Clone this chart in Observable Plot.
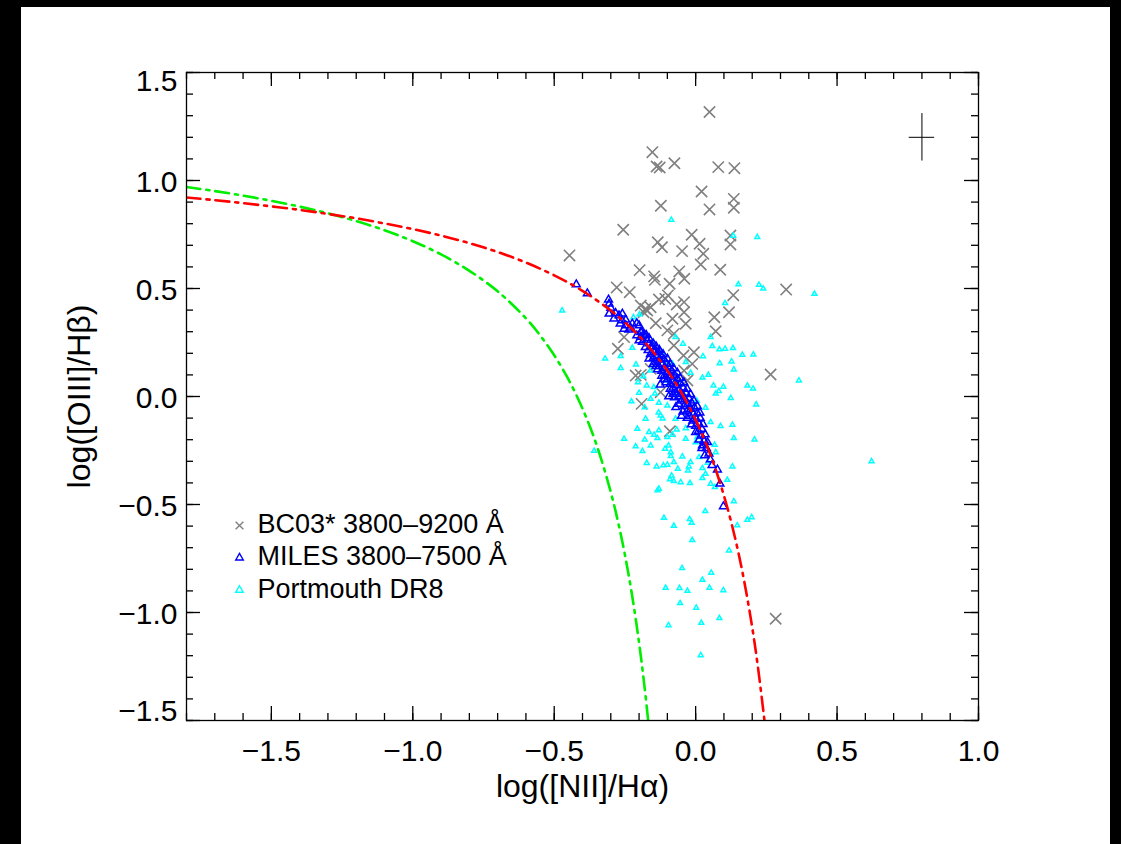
<!DOCTYPE html>
<html><head><meta charset="utf-8">
<script src="https://cdn.jsdelivr.net/npm/d3@7"></script>
<script src="https://cdn.jsdelivr.net/npm/@observablehq/plot@0.6"></script>
<style>
html,body{margin:0;padding:0;background:#000;width:1121px;height:844px;overflow:hidden}
#page{position:absolute;left:21px;top:7px;width:1089px;height:837px;background:#fff}
</style></head><body><div id="page"></div>
<script>
// ---------- data ----------
const bc03 = [[0.049,1.317],[-0.153,1.131],[-0.138,1.065],[-0.127,1.060],[-0.075,1.080],[0.080,1.062],[0.137,1.057],[0.021,0.949],[0.135,0.915],[0.135,0.874],[-0.123,0.883],[0.049,0.866],[-0.256,0.772],[-0.014,0.749],[-0.134,0.714],[-0.119,0.691],[0.014,0.707],[0.123,0.745],[0.123,0.704],[-0.048,0.673],[0.027,0.661],[0.018,0.611],[-0.446,0.653],[-0.198,0.585],[0.087,0.587],[-0.147,0.556],[-0.144,0.540],[-0.058,0.579],[-0.040,0.545],[-0.279,0.505],[-0.233,0.483],[-0.092,0.522],[0.320,0.495],[0.133,0.469],[-0.098,0.468],[-0.107,0.452],[-0.041,0.437],[-0.067,0.426],[-0.130,0.449],[-0.194,0.421],[-0.171,0.398],[-0.159,0.413],[-0.184,0.390],[-0.178,0.405],[0.118,0.390],[0.066,0.367],[-0.041,0.390],[-0.141,0.339],[-0.082,0.360],[-0.035,0.337],[0.071,0.302],[-0.100,0.306],[-0.077,0.290],[-0.253,0.275],[-0.275,0.221],[-0.077,0.236],[-0.006,0.205],[-0.043,0.190],[-0.012,0.151],[-0.041,0.120],[-0.065,0.089],[-0.212,0.097],[-0.194,0.100],[-0.159,0.128],[-0.029,0.074],[0.265,0.102],[-0.124,0.020],[-0.191,-0.034],[-0.091,-0.161],[0.283,-1.029]];

const miles = [[-0.422,0.519],[-0.383,0.477],[-0.308,0.448],[-0.306,0.429],[-0.300,0.410],[-0.306,0.383],[-0.283,0.386],[-0.271,0.375],[-0.259,0.383],[-0.289,0.360],[-0.261,0.352],[-0.247,0.355],[-0.267,0.337],[-0.247,0.329],[-0.224,0.337],[-0.208,0.339],[-0.200,0.329],[-0.230,0.318],[-0.253,0.313],[-0.236,0.309],[-0.194,0.298],[-0.183,0.290],[-0.194,0.275],[-0.208,0.282],[-0.200,0.259],
[-0.190,0.300],[-0.188,0.252],[-0.180,0.282],[-0.178,0.228],[-0.172,0.262],[-0.168,0.214],[-0.165,0.245],[-0.160,0.196],[-0.158,0.228],[-0.152,0.232],[-0.150,0.178],[-0.147,0.205],[-0.142,0.214],[-0.140,0.160],[-0.137,0.188],[-0.132,0.204],[-0.130,0.140],[-0.127,0.170],[-0.122,0.188],[-0.120,0.118],[-0.118,0.150],[-0.112,0.172],[-0.110,0.098],[-0.108,0.132],[-0.103,0.152],[-0.100,0.080],[-0.098,0.112],[-0.094,0.138],[-0.090,0.058],[-0.088,0.092],[-0.085,0.120],[-0.080,0.040],[-0.078,0.072],[-0.075,0.100],[-0.071,0.018],[-0.068,0.052],[-0.064,0.082],[-0.060,0.000],[-0.058,0.030],[-0.054,0.060],[-0.050,-0.020],[-0.048,0.010],[-0.044,0.040],[-0.040,-0.044],[-0.038,-0.012],[-0.034,0.016],[-0.030,-0.066],[-0.028,-0.035],[-0.024,-0.008],[-0.020,-0.090],[-0.018,-0.058],[-0.014,-0.030],[-0.010,-0.112],[-0.008,-0.080],[-0.004,-0.052],[0.000,-0.136],[0.002,-0.104],[0.006,-0.078],[0.010,-0.160],[0.012,-0.128],[0.016,-0.100],[0.019,-0.182],[0.022,-0.150],[0.026,-0.128],[0.024,-0.227],[0.030,-0.205],[0.034,-0.176],[0.038,-0.240],[0.042,-0.212],[0.047,-0.265],[0.032,-0.273],[0.052,-0.292],[0.058,-0.318],[0.077,-0.339],[0.086,-0.404],[0.098,-0.509],
[-0.175,0.285],[-0.165,0.270],[-0.150,0.245],[-0.140,0.232],[-0.128,0.215],[-0.115,0.195],[-0.100,0.175],[-0.090,0.150],[-0.078,0.130],[-0.065,0.110],[-0.055,0.085],[-0.042,0.065],[-0.030,0.035],[-0.018,0.010],[-0.006,-0.020],[0.006,-0.045],[0.015,-0.075],
[-0.165,0.175],[-0.150,0.150],[-0.135,0.125],[-0.120,0.095],[-0.105,0.065],[-0.090,0.035],[-0.075,-0.005],[-0.060,-0.035],[-0.045,-0.070],[-0.030,-0.100],[-0.015,-0.130],[0.000,-0.165],[0.012,-0.200],[0.022,-0.240],[0.030,-0.205],[-0.080,0.010],[-0.110,0.080],[-0.140,0.140],[-0.095,0.000],[-0.070,-0.050],[-0.050,-0.090],[-0.125,0.055]];

const portsmouth = [[-0.086,0.818],[0.133,0.744],[0.218,0.738],[0.151,0.519],[0.224,0.517],[0.239,0.499],[0.420,0.475],[0.104,0.432],[-0.198,0.380],[-0.220,0.367],[-0.472,0.398],[0.053,0.275],[-0.045,0.244],[0.059,0.233],[0.084,0.218],[0.104,0.221],[0.132,0.224],[0.026,0.186],[0.165,0.193],[0.204,0.194],[-0.071,0.275],[-0.320,0.175],[-0.265,0.187],[-0.265,0.132],[-0.224,0.225],[-0.211,0.148],[-0.204,0.066],[-0.185,0.093],[-0.159,0.120],[-0.082,0.151],[-0.100,0.074],[-0.035,0.159],[-0.148,0.043],[-0.173,0.051],[0.085,0.154],[0.127,0.162],[0.135,0.125],[-0.018,0.110],[0.045,0.100],[0.024,0.087],[0.365,0.074],[0.063,0.051],[0.098,0.045],[0.183,0.050],[0.203,0.036],[-0.200,0.017],[-0.159,-0.011],[-0.144,0.013],[-0.227,-0.023],[-0.130,-0.029],[-0.180,-0.050],[-0.100,-0.042],[-0.131,-0.074],[-0.117,-0.102],[-0.124,-0.088],[-0.177,-0.103],[-0.206,-0.150],[-0.165,-0.165],[-0.130,-0.157],[-0.147,-0.177],[-0.071,-0.103],[-0.067,-0.153],[-0.253,-0.196],[-0.180,-0.200],[-0.135,-0.193],[-0.100,-0.188],[-0.082,-0.177],[-0.035,-0.147],[-0.212,-0.231],[-0.159,-0.227],[-0.108,-0.242],[-0.096,-0.227],[-0.188,-0.253],[-0.359,-0.252],[-0.088,-0.258],[-0.035,-0.196],[0.000,-0.212],[-0.173,-0.308],[-0.088,-0.276],[-0.047,-0.278],[-0.018,-0.304],[-0.138,-0.324],[-0.114,-0.319],[-0.100,-0.316],[-0.063,-0.335],[-0.027,-0.343],[-0.085,-0.366],[-0.091,-0.384],[-0.077,-0.392],[-0.053,-0.397],[-0.020,-0.401],[0.006,-0.188],[0.012,-0.281],[0.071,0.013],[0.082,0.025],[0.124,-0.007],[0.214,-0.037],[0.035,-0.052],[0.053,-0.119],[0.088,-0.137],[0.130,-0.131],[0.135,-0.193],[0.208,-0.199],[0.067,-0.224],[0.071,-0.258],[0.130,-0.324],[0.043,-0.307],[0.024,-0.332],[0.035,-0.358],[0.112,-0.386],[0.024,-0.378],[0.053,-0.404],[0.135,-0.485],[0.034,-0.531],[-0.112,-0.562],[-0.021,-0.568],[-0.014,-0.585],[-0.077,-0.599],[0.147,-0.597],[0.183,-0.571],[0.198,-0.559],[-0.012,-0.665],[0.118,-0.713],[-0.048,-0.795],[0.055,-0.816],[0.024,-0.849],[-0.106,-0.886],[-0.057,-0.887],[-0.029,-0.900],[0.049,-0.886],[0.098,-0.897],[-0.055,-0.957],[0.002,-0.978],[0.084,-1.026],[-0.096,-1.059],[0.020,-1.048],[0.018,-1.198],[0.622,-0.300],[-0.077,-0.304],[-0.024,-0.324],[-0.135,-0.435],[-0.130,-0.427],[0.068,-0.420],[-0.060,0.060],[-0.040,0.005],[-0.105,0.160],[-0.120,0.205],[-0.020,-0.050],[0.004,-0.020],[-0.150,0.250],[-0.070,0.010]];

// demarcation curves
const kewleyX = [-1.8,-1.7,-1.6,-1.5,-1.4,-1.3,-1.2,-1.1,-1.0,-0.9,-0.8,-0.7,-0.6,-0.5,-0.4,-0.3,-0.25,-0.2,-0.15,-0.1,-0.05,0.0,0.025,0.05,0.075,0.1,0.125,0.15,0.175,0.2,0.22,0.243];
const kewleyY = [0.921,0.909,0.895,0.880,0.864,0.845,0.825,0.801,0.775,0.745,0.710,0.669,0.620,0.561,0.489,0.398,0.343,0.280,0.206,0.120,0.017,-0.108,-0.181,-0.262,-0.354,-0.459,-0.578,-0.716,-0.878,-1.069,-1.250,-1.497];
const kauffX = [-1.8,-1.7,-1.6,-1.5,-1.4,-1.3,-1.2,-1.1,-1.0,-0.9,-0.8,-0.7,-0.6,-0.55,-0.5,-0.45,-0.4,-0.35,-0.3,-0.275,-0.25,-0.225,-0.2,-0.18,-0.168];
const kauffY = [0.970,0.951,0.930,0.906,0.879,0.848,0.812,0.770,0.719,0.658,0.582,0.487,0.362,0.283,0.191,0.080,-0.056,-0.225,-0.443,-0.577,-0.733,-0.918,-1.140,-1.352,-1.498];

// typical error bar
const errX = [0.8], errY = [1.2], errDX = [0.045], errDY = [0.11];

// axes
const xMajor = [-1.5,-1.0,-0.5,0.0,0.5,1.0];
const yMajor = [-1.5,-1.0,-0.5,0.0,0.5,1.0,1.5];
const xMinor = d3.range(-18, 11).map(i => i / 10);
const yMinor = d3.range(-15, 16).map(i => i / 10);

const legendLabels = ["BC03* 3800–9200 Å", "MILES 3800–7500 Å", "Portmouth DR8"];
const legendSymbols = ["times", "triangle", "triangle"];
const legendColors = ["#808080", "#0000ff", "#00ffff"];
const legendR = [3.6, 2.8, 2.8];

const xLabel = "log([NII]/Hα)";
const yLabel = "log([OIII]/Hβ)";

// ---------- build ----------
const FONT = "'Liberation Sans', Arial, Helvetica, sans-serif";
const W = 1089, H = 837, ML = 165, MR = 132, MT = 65, MB = 124;
const FW = W - ML - MR, FH = H - MT - MB;   // frame size
const toObj = a => a.map(([x, y]) => ({x, y}));
const kewley = kewleyX.map((x, i) => ({x, y: kewleyY[i]}));
const kauff = kauffX.map((x, i) => ({x, y: kauffY[i]}));
const err = errX.map((x, i) => ({x, y: errY[i], dx: errDX[i], dy: errDY[i]}));
const fmt = d3.format(".1f");

// inward ticks on all four sides: rules spanning the frame, inset to tick length
const tickMarks = [];
for (const [ticks, len] of [[xMinor, 7], [xMajor, 14]]) {
  tickMarks.push(Plot.ruleX(ticks, {x: d => d, insetTop: FH - len, stroke: "black", strokeWidth: 1.3}));
  tickMarks.push(Plot.ruleX(ticks, {x: d => d, insetBottom: FH - len, stroke: "black", strokeWidth: 1.3}));
}
for (const [ticks, len] of [[yMinor, 7], [yMajor, 14]]) {
  tickMarks.push(Plot.ruleY(ticks, {y: d => d, insetRight: FW - len, stroke: "black", strokeWidth: 1.3}));
  tickMarks.push(Plot.ruleY(ticks, {y: d => d, insetLeft: FW - len, stroke: "black", strokeWidth: 1.3}));
}

const legendMarks = [];
legendLabels.forEach((lab, i) => {
  legendMarks.push(Plot.dot([lab], {frameAnchor: "top-left", dx: 53, dy: 453 + i * 32.3,
    symbol: legendSymbols[i], r: legendR[i], stroke: legendColors[i], strokeWidth: 1.4, fill: "none"}));
  legendMarks.push(Plot.text([lab], {frameAnchor: "top-left", dx: 71, dy: 452 + i * 32.3,
    textAnchor: "start", lineAnchor: "middle", fontSize: 27, fill: "black"}));
});

const chart = Plot.plot({
  width: W, height: H,
  marginLeft: ML, marginRight: MR, marginTop: MT, marginBottom: MB,
  style: {fontFamily: FONT, fontSize: "30px", background: "white", color: "black", overflow: "visible"},
  x: {domain: [-1.8, 1.0], label: null},
  y: {domain: [-1.5, 1.5], label: null},
  marks: [
    Plot.dot(toObj(bc03), {x: "x", y: "y", symbol: "times", r: 5.2, stroke: "#808080", strokeWidth: 1.6}),
    Plot.dot(toObj(portsmouth), {x: "x", y: "y", symbol: "triangle", r: 1.8, stroke: "#00ffff", strokeWidth: 1.5, fill: "none"}),
    Plot.dot(toObj(miles), {x: "x", y: "y", symbol: "triangle", r: 2.9, stroke: "#0000ff", strokeWidth: 1.5, fill: "none"}),
    Plot.line(kauff, {x: "x", y: "y", stroke: "#00ee00", strokeWidth: 2.6, strokeDasharray: "14,6,3,6", curve: "catmull-rom", clip: true}),
    Plot.line(kewley, {x: "x", y: "y", stroke: "#ff0000", strokeWidth: 2.6, strokeDasharray: "14,6,3,6", curve: "catmull-rom", clip: true}),
    Plot.ruleY(err, {y: "y", x1: d => d.x - d.dx, x2: d => d.x + d.dx, stroke: "black", strokeWidth: 1}),
    Plot.ruleX(err, {x: "x", y1: d => d.y - d.dy, y2: d => d.y + d.dy, stroke: "black", strokeWidth: 1}),
    ...legendMarks,
    ...tickMarks,
    Plot.axisX(xMajor, {anchor: "bottom", tickSize: 0, tickPadding: 19, tickFormat: fmt, label: null}),
    Plot.axisY([-1.0, -0.5, 0.0, 0.5, 1.0], {anchor: "left", tickSize: 0, tickPadding: 9, tickFormat: fmt, label: null, dy: 2}),
    Plot.axisY([1.5], {anchor: "left", tickSize: 0, tickPadding: 9, tickFormat: fmt, label: null, dy: 9}),
    Plot.axisY([-1.5], {anchor: "left", tickSize: 0, tickPadding: 9, tickFormat: fmt, label: null, dy: -9}),
    Plot.text([xLabel], {frameAnchor: "bottom", dy: 66, lineAnchor: "middle", textAnchor: "middle", fontSize: 32, fill: "black"}),
    Plot.text([yLabel], {frameAnchor: "left", dx: -107, rotate: -90, lineAnchor: "middle", textAnchor: "middle", fontSize: 32, fill: "black"}),
    Plot.frame({stroke: "black", strokeWidth: 1.3})
  ]
});
document.getElementById("page").appendChild(chart);
</script>
</body></html>
